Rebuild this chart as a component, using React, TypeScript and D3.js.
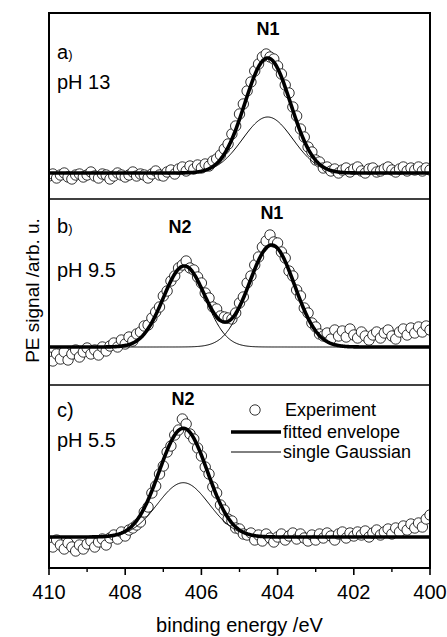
import React from "react";
import * as d3 from "d3";

// ---- data ----
const energyStart = 410;
const energyStep = 0.1;
const xMajorTicks = [410, 408, 406, 404, 402, 400];
const xMinorTicks = [409, 407, 405, 403, 401];

// measured PE signal (arb. u., above fitted baseline), 410 -> 400 eV
const signalA = [
  -3, -1, -5, -2, 0, -4, -6, -2, -1, -4, -2, 1, -3, -5, -1, -2, -6, -3, 0, -2,
  -4, -2, 1, -3, -1, -2, -5, -1, 2, -2, -3, 1, 3, -1, 4, 6, 2, 7, 4, 8,
  5, 9, 7, 12, 14, 18, 24, 29, 39, 47, 59, 69, 82, 91, 102, 109, 116, 119, 116, 114,
  107, 99, 88, 80, 66, 57, 44, 36, 26, 21, 13, 11, 5, 6, 2, 4, 0, 3, 5, 1,
  4, 6, 2, 0, 4, 5, 1, 2, 4, 6, 3, 1, 4, 6, 2, 5, 3, 6, 2, 5, 3,
];
const signalB = [
  -10, -14, -7, -12, -5, -13, -7, -3, -10, -5, -1, -7, -3, -8, 0, -4, 1, 4, 0, 7,
  3, 10, 6, 13, 15, 21, 22, 29, 35, 40, 51, 56, 66, 71, 79, 82, 86, 79, 77, 70,
  64, 54, 49, 40, 38, 31, 30, 29, 28, 34, 44, 50, 64, 71, 82, 90, 100, 106, 112, 105,
  104, 95, 89, 76, 71, 57, 51, 39, 34, 24, 20, 13, 11, 14, 8, 17, 11, 16, 10, 18,
  12, 9, 15, 11, 7, 12, 15, 9, 14, 17, 11, 8, 15, 18, 12, 19, 14, 20, 15, 21, 17,
];
const signalC = [
  -6, -10, -3, -8, -12, -6, -10, -14, -8, -12, -7, -4, -10, -5, -2, -8, -1, 2, -2, 5,
  1, 7, 9, 12, 15, 25, 30, 44, 51, 63, 71, 85, 91, 102, 107, 118, 113, 103, 98, 89,
  81, 70, 63, 50, 44, 32, 27, 18, 16, 9, 8, 3, 2, 4, -3, 2, -4, 3, -1, -5,
  0, 3, -3, 1, 4, -2, 3, -1, -4, 2, -3, 3, -1, 4, 1, -3, 3, 5, -1, 4,
  1, 5, 2, 6, 0, 4, 7, 2, 5, 8, 3, 9, 5, 11, 7, 13, 9, 14, 10, 18, 22,
];

// fitted Gaussian components: [centre eV, amplitude, sigma eV]
const envelopeA = [[404.26, 115, 0.6]];
const gaussiansA = [[404.26, 56, 0.66]];
const gaussiansB = [[406.45, 81, 0.55], [404.155, 102, 0.6]];
const envelopeB = gaussiansB;
const envelopeC = [[406.475, 108.7, 0.63]];
const gaussiansC = [[406.475, 54.3, 0.68]];

const panelLetters = ["a", "b", "c"];
const phLabels = ["pH 13", "pH 9.5", "pH 5.5"];
const peakNamesA = ["N1"];
const peakNamesB = ["N2", "N1"];
const peakNamesC = ["N2"];
const peakEnergiesA = [404.25];
const peakEnergiesB = [406.56, 404.15];
const peakEnergiesC = [406.48];
const legendLabels = ["Experiment", "fitted envelope", "single Gaussian"];

// ---- layout ----
const W = 447;
const H = 637;
const left = 49;
const right = 430;
const panelTops = [13, 199, 385];
const panelBottoms = [199, 385, 568];
const yDomains = [[-26, 160], [-38, 148], [-31, 152]];
const peakLabelY = [[35], [233, 219], [405]];
const letterOffsets = [46, 34, 32];
const phOffsets = [76, 78, 62];
const FONT = "'Liberation Sans', Arial, Helvetica, sans-serif";

const x = d3.scaleLinear().domain([410, 400]).range([left, right]);

function gaussSum(params: number[][], e: number) {
  let s = 0;
  for (const [c, a, sg] of params) s += a * Math.exp(-((e - c) * (e - c)) / (2 * sg * sg));
  return s;
}

const curveGrid = d3.range(410, 399.99, -0.02);

export default function App() {
  const panels = [
    { sig: signalA, env: envelopeA, comps: gaussiansA, names: peakNamesA, pe: peakEnergiesA },
    { sig: signalB, env: envelopeB, comps: gaussiansB, names: peakNamesB, pe: peakEnergiesB },
    { sig: signalC, env: envelopeC, comps: gaussiansC, names: peakNamesC, pe: peakEnergiesC },
  ];
  const bottom = panelBottoms[2];
  return (
    <svg
      width={W}
      height={H}
      style={{ position: "absolute", left: 0, top: 0, background: "#fff" }}
      fontFamily={FONT}
    >
      <defs>
        {panels.map((_, i) => (
          <clipPath id={`clip${i}`} key={i}>
            <rect x={left} y={panelTops[i]} width={right - left} height={panelBottoms[i] - panelTops[i]} />
          </clipPath>
        ))}
      </defs>
      {panels.map((p, i) => {
        const y = d3.scaleLinear().domain(yDomains[i]).range([panelBottoms[i], panelTops[i]]);
        const env = d3
          .line<number>()
          .x((e) => x(e))
          .y((e) => y(gaussSum(p.env, e)))(curveGrid);
        const comps = p.comps.map((c) =>
          d3
            .line<number>()
            .x((e) => x(e))
            .y((e) => y(gaussSum([c], e)))(curveGrid)
        );
        return (
          <g key={i}>
            <g clipPath={`url(#clip${i})`}>
              {p.sig.map((v, k) => (
                <circle
                  key={k}
                  cx={x(energyStart - k * energyStep)}
                  cy={y(v)}
                  r={5.2}
                  fill="#fff"
                  stroke="#000"
                  strokeWidth={0.8}
                />
              ))}
              {comps.map((d, k) => (
                <path key={k} d={d || ""} fill="none" stroke="#000" strokeWidth={1} />
              ))}
              <path d={env || ""} fill="none" stroke="#000" strokeWidth={3.6} strokeLinejoin="round" />
            </g>
            <text x={57} y={panelTops[i] + letterOffsets[i]} fontSize={20}>
              {panelLetters[i]}
              <tspan fontSize={i === 2 ? 20 : 13}>)</tspan>
            </text>
            <text x={57} y={panelTops[i] + phOffsets[i]} fontSize={20}>
              {phLabels[i]}
            </text>
            {p.names.map((n, k) => (
              <text
                key={k}
                x={x(p.pe[k])}
                y={peakLabelY[i][k]}
                fontSize={18}
                fontWeight="bold"
                textAnchor="middle"
              >
                {n}
              </text>
            ))}
          </g>
        );
      })}
      {/* frame and separators */}
      <rect x={left} y={panelTops[0]} width={right - left} height={bottom - panelTops[0]} fill="none" stroke="#000" strokeWidth={2} />
      {panelTops.slice(1).map((t, i) => (
        <line key={i} x1={left} x2={right} y1={t} y2={t} stroke="#000" strokeWidth={1.6} />
      ))}
      {/* x axis */}
      {xMajorTicks.map((t) => (
        <g key={t}>
          <line x1={x(t)} x2={x(t)} y1={bottom} y2={bottom + 7} stroke="#000" strokeWidth={1.6} />
          <text x={x(t)} y={599} fontSize={20} textAnchor="middle">
            {t}
          </text>
        </g>
      ))}
      {xMinorTicks.map((t) => (
        <line key={t} x1={x(t)} x2={x(t)} y1={bottom} y2={bottom + 4} stroke="#000" strokeWidth={1.4} />
      ))}
      <text x={(left + right) / 2} y={632} fontSize={20} textAnchor="middle">
        binding energy /eV
      </text>
      <text
        transform={`translate(39,${(panelTops[0] + bottom) / 2}) rotate(-90)`}
        fontSize={19}
        textAnchor="middle"
      >
        PE signal /arb. u.
      </text>
      {/* legend */}
      <circle cx={255} cy={410} r={5.2} fill="#fff" stroke="#000" strokeWidth={0.8} />
      <text x={285} y={416} fontSize={18}>{legendLabels[0]}</text>
      <line x1={231} x2={281} y1={432} y2={432} stroke="#000" strokeWidth={3.6} />
      <text x={283} y={438} fontSize={18}>{legendLabels[1]}</text>
      <line x1={231} x2={281} y1={452} y2={452} stroke="#000" strokeWidth={1} />
      <text x={283} y={458} fontSize={18}>{legendLabels[2]}</text>
    </svg>
  );
}
